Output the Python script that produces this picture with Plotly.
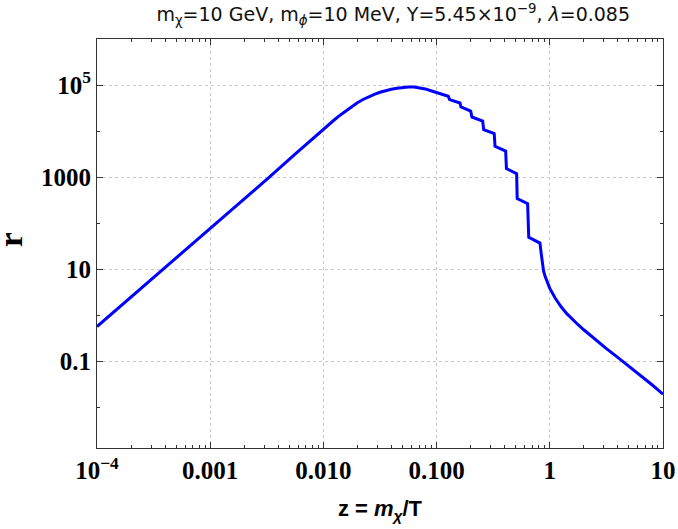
import plotly.graph_objects as go

# (log10 z, log10 r)
log_z = [-4.0, -3.75, -3.5, -3.25, -3.0, -2.75, -2.5, -2.25, -2.1, -2.0, -1.95, -1.9, -1.85,
         -1.8, -1.75, -1.7, -1.65, -1.6, -1.55, -1.5, -1.45, -1.4, -1.35, -1.3, -1.25,
         -1.2, -1.15, -1.1, -1.05, -1.0, -0.95,
         -0.897, -0.885, -0.793, -0.785, -0.699, -0.688, -0.593, -0.584,
         -0.491, -0.484, -0.390, -0.383, -0.293, -0.288, -0.196, -0.186,
         -0.087, -0.075, -0.065, -0.055, -0.04, -0.02, 0.0, 0.05, 0.1, 0.15,
         0.2, 0.25, 0.3, 0.4, 0.5, 0.6, 0.7, 0.8, 0.9, 1.0]
log_r = [-0.25, 0.28, 0.81, 1.34, 1.87, 2.41, 2.95, 3.50, 3.83, 4.04, 4.145, 4.25, 4.35,
         4.445, 4.535, 4.615, 4.685, 4.745, 4.797, 4.842, 4.878, 4.908, 4.93, 4.947, 4.956,
         4.957, 4.94, 4.915, 4.875, 4.83, 4.79,
         4.754, 4.683, 4.609, 4.522, 4.435, 4.304, 4.217, 4.030,
         3.943, 3.667, 3.565, 3.183, 3.074, 2.530, 2.422, 1.689,
         1.565, 1.32, 1.10, 0.96, 0.83, 0.70, 0.58, 0.36, 0.18, 0.03,
         -0.10, -0.21, -0.32, -0.53, -0.73, -0.92, -1.11, -1.31, -1.51, -1.72]

z_vals = [10 ** v for v in log_z]
r_vals = [10 ** v for v in log_r]

x_tickvals = [1e-4, 1e-3, 1e-2, 1e-1, 1, 10]
x_ticktext = ["10<sup>\u22124</sup>", "0.001", "0.010", "0.100", "1", "10"]
y_tickvals = [0.1, 10, 1000, 1e5]
y_ticktext = ["0.1", "10", "1000", "10<sup>5</sup>"]
y_minorvals = [0.01, 1, 100, 1e4, 1e6]
x_minorvals = [d * 10 ** e for e in range(-4, 1) for d in range(2, 10)]

tick_font = dict(family="Liberation Serif", size=25, color="black", weight="bold")

fig = go.Figure()
fig.add_trace(go.Scatter(x=z_vals, y=r_vals, mode="lines",
                         line=dict(color="#0000ff", width=3), showlegend=False))

axis_common = dict(
    showline=True, linecolor="#333", linewidth=1, mirror="ticks",
    ticks="inside", ticklen=6, tickcolor="#333", tickwidth=1,
    showgrid=True, gridcolor="#c8c8c8", griddash="dot", gridwidth=1,
    zeroline=False, tickfont=tick_font, automargin=False,
)

fig.update_xaxes(
    type="log", range=[-4, 1], tickmode="array", tickvals=x_tickvals, ticktext=x_ticktext,
    minor=dict(tickmode="array", tickvals=x_minorvals, ticks="inside", ticklen=3,
               tickcolor="#333", showgrid=False),
    title=dict(text="<b>z = <i>m</i><sub><i>\u03c7</i></sub>/T</b>",
               font=dict(family="Liberation Sans", size=22, color="black"), standoff=17),
    **axis_common,
)
fig.update_yaxes(
    type="log", range=[-2.89, 6.0], tickmode="array", tickvals=y_tickvals, ticktext=y_ticktext,
    minor=dict(tickmode="array", tickvals=y_minorvals, ticks="inside", ticklen=3,
               tickcolor="#333", showgrid=False),
    **axis_common,
)

fig.add_annotation(
    text="<b>r</b>", xref="paper", yref="paper", x=-0.1537, y=0.508,
    xanchor="center", yanchor="middle", textangle=-90, showarrow=False,
    font=dict(family="Liberation Serif", size=34, color="black"),
)

fig.update_layout(
    width=678, height=529,
    margin=dict(l=97, r=15, t=39, b=81, autoexpand=False),
    paper_bgcolor="white", plot_bgcolor="white",
    title=dict(
        text="m<sub>\u03c7</sub>=10 GeV, m<sub><i>\u03d5</i></sub>=10 MeV, Y=5.45\u00d710<sup>\u22129</sup>, <i>\u03bb</i>=0.085",
        font=dict(family="DejaVu Sans", size=19, color="#111"),
        x=0.58, xanchor="center", y=0.972, yanchor="middle",
    ),
)

fig.write_html("out.html", config={"displayModeBar": False},
               post_script="document.body.style.margin='0';document.body.style.overflow='hidden';")
